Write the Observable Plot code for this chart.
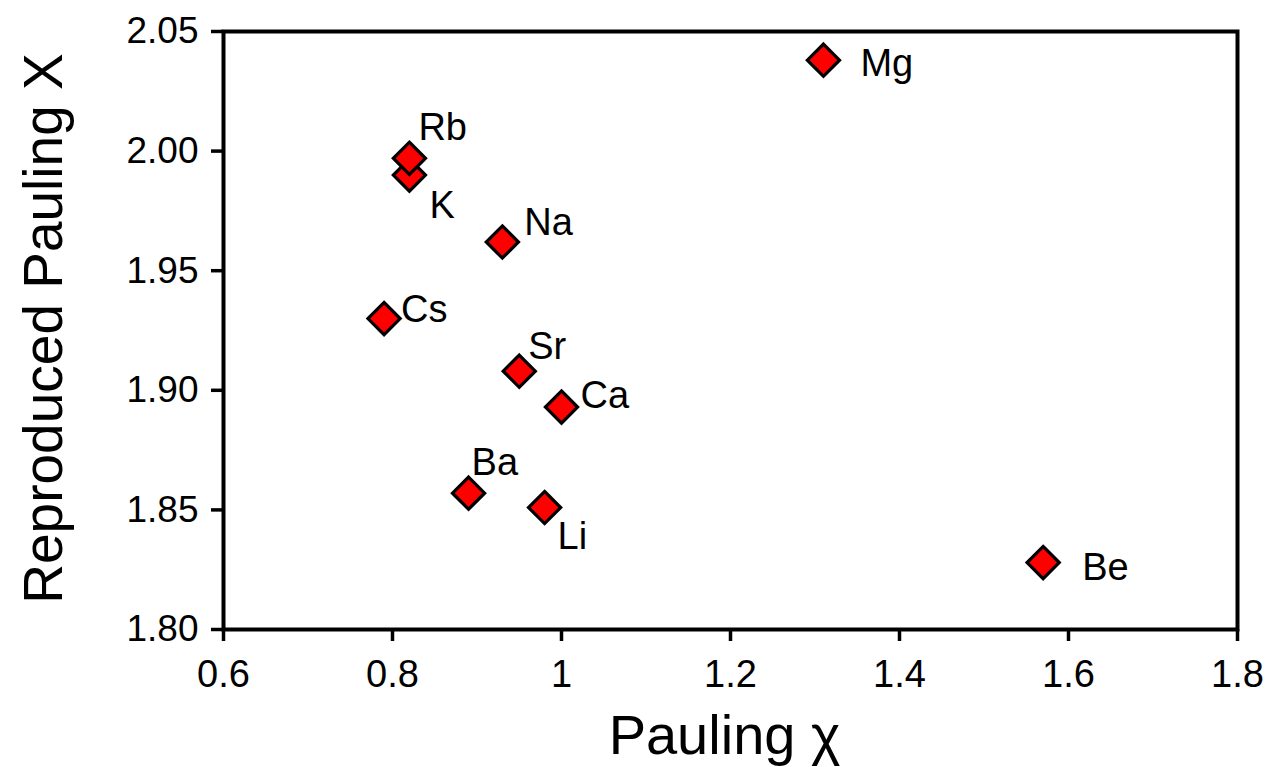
<!DOCTYPE html>
<html><head><meta charset="utf-8">
<script src="https://cdn.jsdelivr.net/npm/d3@7"></script>
<script src="https://cdn.jsdelivr.net/npm/@observablehq/plot@0.6"></script>
<style>html,body{margin:0;padding:0;background:#fff;}</style>
</head><body><div id="chart"></div>
<script>
const elements = ["Mg","K","Rb","Na","Cs","Sr","Ca","Ba","Li","Be"];
const paulingX = [1.31,0.82,0.82,0.93,0.79,0.95,1.00,0.89,0.98,1.57];
const reproducedX = [2.038,1.990,1.997,1.962,1.930,1.908,1.893,1.857,1.851,1.828];
const xTicks = [0.6,0.8,1,1.2,1.4,1.6,1.8];
const yTicks = [1.80,1.85,1.90,1.95,2.00,2.05];
const xTitle = "Pauling χ";
const yTitle = "Reproduced Pauling Χ";

// label placement (style, in px)
const labelOffset = {Mg:[37,4],K:[20,31],Rb:[9,-30],Na:[22,-19],Cs:[17,-9],Sr:[9,-24.5],Ca:[19,-11.5],Ba:[3,-30.5],Li:[13,29.5],Be:[39,5.5]};

const data = elements.map((el,i) => ({el, x: paulingX[i], y: reproducedX[i]}));

const chart = Plot.plot({
  width: 1271,
  height: 767,
  marginLeft: 223,
  marginRight: 34,
  marginTop: 31,
  marginBottom: 138,
  style: {fontFamily: "'Liberation Sans', Arial, sans-serif", fontSize: "37px", background: "#fff", color: "#000"},
  x: {domain: [0.6, 1.8]},
  y: {domain: [1.80, 2.05]},
  marks: [
    Plot.axisX({ticks: xTicks, tickSize: 12, tickPadding: 19, tickFormat: d => String(d), strokeWidth: 3.5, fontSize: 38, label: null}),
    Plot.axisY({ticks: yTicks, tickSize: 12, tickPadding: 13, tickFormat: d => d.toFixed(2), strokeWidth: 3.5, fontSize: 37, label: null}),
    Plot.frame({stroke: "#000", strokeWidth: 4}),
    Plot.dot(data, {x: "x", y: "y", symbol: "diamond2", r: 14.5, fill: "#ff0000", stroke: "#000", strokeWidth: 3.2}),
    ...elements.map(el => Plot.text(data.filter(d => d.el === el), {
      x: "x", y: "y", text: "el", dx: labelOffset[el][0], dy: labelOffset[el][1],
      textAnchor: "start", lineAnchor: "middle", fontSize: 38, fill: "#000"
    })),
    Plot.text([xTitle], {frameAnchor: "bottom", text: d => d, dy: 124, dx: -6, lineAnchor: "bottom", textAnchor: "middle", fontSize: 56, fill: "#000"}),
    Plot.text([yTitle], {frameAnchor: "left", text: d => d, rotate: -90, dx: -162, dy: -2, lineAnchor: "bottom", textAnchor: "middle", fontSize: 55, fill: "#000"})
  ]
});
document.getElementById("chart").appendChild(chart);
</script>
</body></html>
